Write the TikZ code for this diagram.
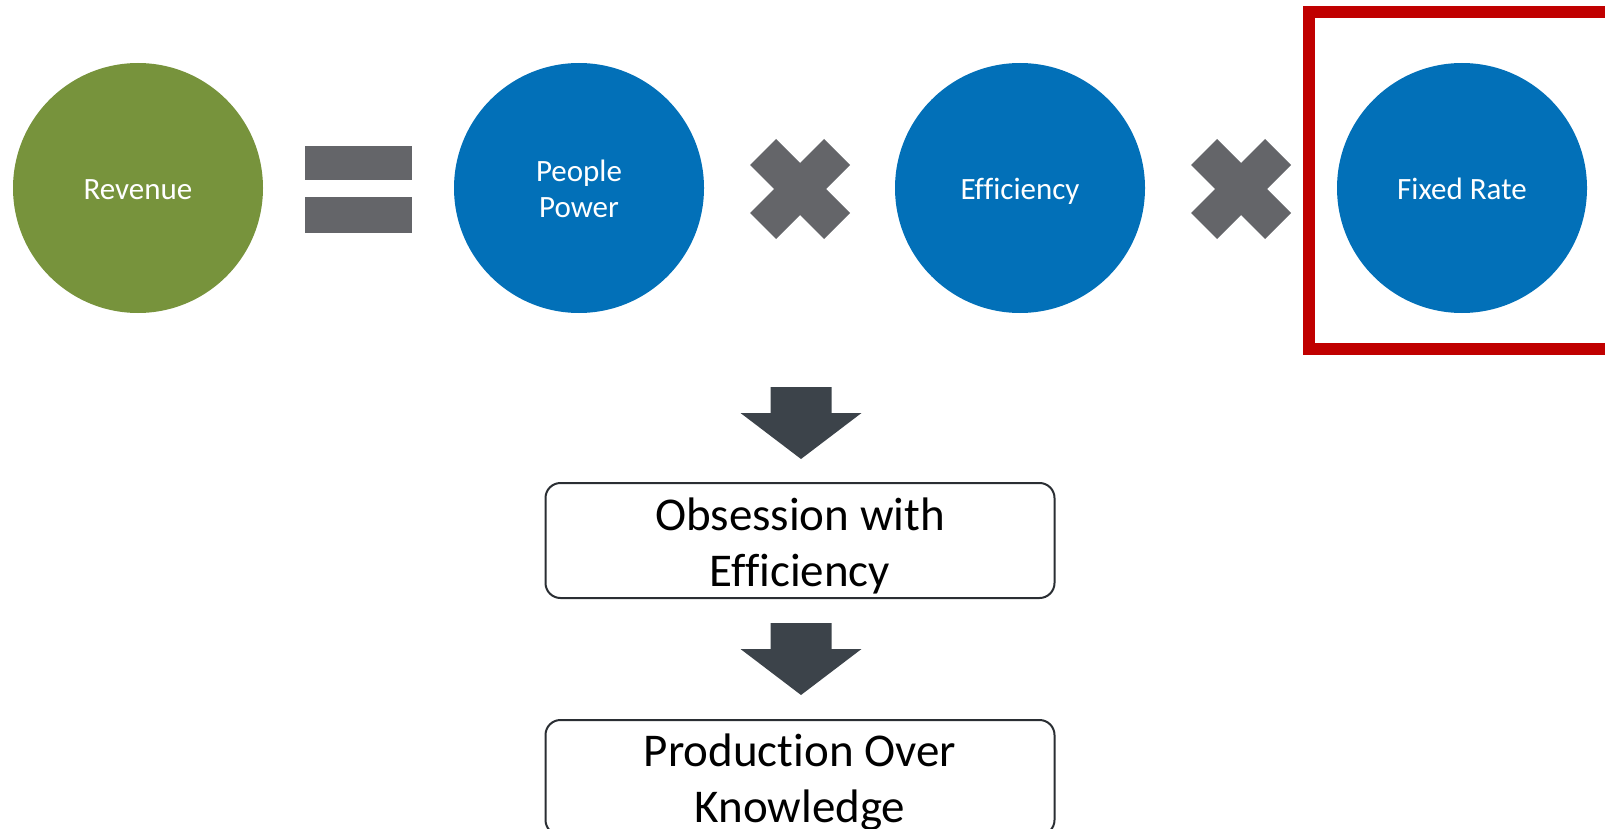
\documentclass[tikz,border=0pt]{standalone}
\usepackage{fontspec}
\setmainfont{Carlito}[Ligatures=NoCommon]
\definecolor{revgreen}{HTML}{77933C}
\definecolor{factorblue}{HTML}{0270B8}
\definecolor{opgray}{HTML}{646569}
\definecolor{arrowgray}{HTML}{3C434A}
\definecolor{framered}{HTML}{C00000}
\definecolor{boxline}{HTML}{2A2E33}
% centred lines of text, set a little lower than the box centre
\newcommand\loweredlines[2]{%
  \raisebox{-#1}[\height][\depth]{\begin{tabular}{@{}c@{}}#2\end{tabular}}}
\tikzset{
  factor/.style={circle, minimum size=250pt, inner sep=0pt, text=white,
    font=\fontsize{31}{36}\selectfont},
  outcome/.style={draw=boxline, line width=2pt, rounded corners=15pt,
    minimum width=509pt, minimum height=115pt, inner sep=0pt,
    font=\fontsize{47}{56}\selectfont},
  timessign/.pic={
    \fill[opgray] (-50,24) -- (-24,50) -- (0,26) -- (24,50) -- (50,24) -- (26,0)
      -- (50,-24) -- (24,-50) -- (0,-26) -- (-24,-50) -- (-50,-24) -- (-26,0) -- cycle;
  },
  downblock/.pic={
    \fill[arrowgray] (-30.5,0) -- (30.5,0) -- (30.5,26) -- (60.5,26) -- (0,72)
      -- (-60.5,26) -- (-30.5,26) -- cycle;
  }
}
\begin{document}
\begin{tikzpicture}[x=1pt, y=-1pt]
\useasboundingbox (0,0) rectangle (1605,829);
\clip (0,0) rectangle (1605,829);

% the product of factors
\node[factor, fill=revgreen]   (rev) at (138,188)  {\loweredlines{4pt}{Revenue}};
\node[factor, fill=factorblue] (pp)  at (579,188)  {\loweredlines{4.5pt}{People\\Power}};
\node[factor, fill=factorblue] (eff) at (1020,188) {\loweredlines{4pt}{Efficiency}};
\node[factor, fill=factorblue] (fr)  at (1462,188) {\loweredlines{4pt}{Fixed Rate}};

% operators between them
\fill[opgray] (305,146.5) rectangle (412,180.5);
\fill[opgray] (305,197.5) rectangle (412,232.5);
\pic (x1) at (800,189) {timessign};
\pic (x2) at (1241,189) {timessign};

% highlight frame round the last factor
\draw[framered, line width=12pt] (1309,12) rectangle (1640,349);

% consequences
\pic (a1) at (801,387) {downblock};
\node[outcome] (ob) at (800,540.5) {\loweredlines{6.5pt}{Obsession with\\Efficiency}};
\pic (a2) at (801,623) {downblock};
\node[outcome] (prod) at (800,777.5) {\loweredlines{6pt}{Production Over\\Knowledge}};
\end{tikzpicture}
\end{document}
